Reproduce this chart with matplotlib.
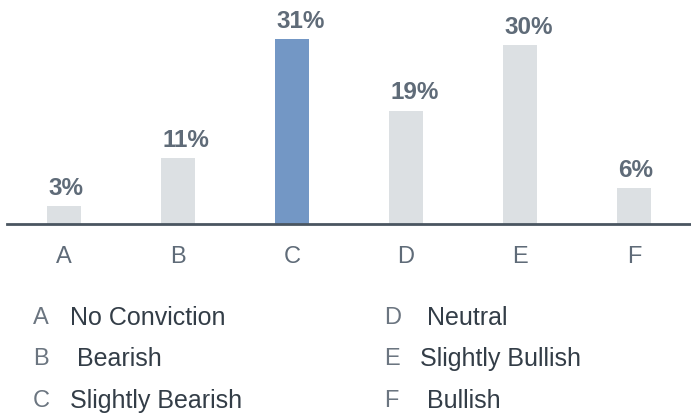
import matplotlib.pyplot as plt

categories = ['A', 'B', 'C', 'D', 'E', 'F']
values = [3, 11, 31, 19, 30, 6]
descriptions = ['No Conviction', ' Bearish', 'Slightly Bearish',
                ' Neutral', 'Slightly Bullish', ' Bullish']
highlight = 'C'

plt.rcParams['font.family'] = ['Liberation Sans', 'DejaVu Sans']

fig = plt.figure(figsize=(6.91, 4.20), dpi=100)
ax = fig.add_axes([7 / 691, 196 / 420, 684 / 691, 224 / 420])

colors = ['#7397c5' if c == highlight else '#dce0e3' for c in categories]
x = range(len(categories))
bars = ax.bar(x, values, width=0.3, color=colors, zorder=2)

# value labels sit flush with the left edge of each bar
for rect, v in zip(bars, values):
    ax.annotate(str(v) + '%', (rect.get_x(), v),
                xytext=(1, 8), textcoords='offset points', ha='left',
                va='baseline', fontsize=17.5, fontweight='bold', color='#5f6b78')

ax.set_xlim(-0.5, 5.5)
ax.set_ylim(0, 37.5)
ax.set_xticks(list(x))
ax.set_xticklabels(categories, fontsize=17, color='#5f6b78')
ax.tick_params(axis='x', length=0, pad=16)
ax.set_yticks([])
for side in ['top', 'right', 'left']:
    ax.spines[side].set_visible(False)
ax.spines['bottom'].set_color('#4a5560')
ax.spines['bottom'].set_linewidth(2)
ax.spines['bottom'].set_zorder(3)

# legend block below the axis
rows_y = [318, 359, 401]
col_x = [33, 384]
text_x = [70, 420]
for i, (c, d) in enumerate(zip(categories, descriptions)):
    col = i // 3
    row = i % 3
    y = 1 - rows_y[row] / 420
    fig.text(col_x[col] / 691, y, c, fontsize=17, color='#6b7580', va='center')
    fig.text(text_x[col] / 691, y, d, fontsize=18, color='#333d47', va='center')

fig.savefig('out.png', dpi=100)
